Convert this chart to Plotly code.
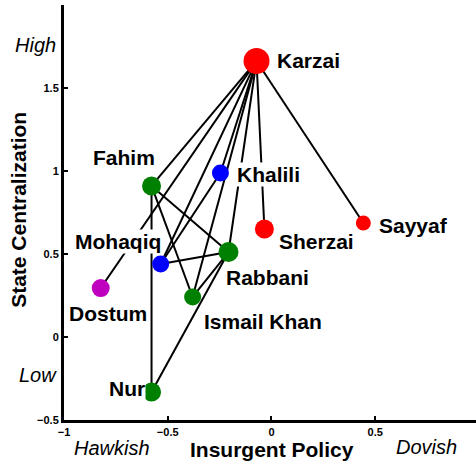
import plotly.graph_objects as go

# ---- data ----
names = ["Karzai", "Khalili", "Sherzai", "Sayyaf", "Fahim", "Mohaqiq",
         "Rabbani", "Ismail Khan", "Dostum", "Nur"]
policy = [-0.072, -0.246, -0.034, 0.443, -0.578, -0.534, -0.207, -0.380, -0.823, -0.578]
central = [1.663, 0.988, 0.651, 0.687, 0.910, 0.440, 0.512, 0.241, 0.295, -0.331]
groups = ["red", "blue", "red", "red", "green", "blue", "green", "green", "magenta", "green"]
weights = [26, 17, 19, 15, 19, 17, 20, 17, 18, 19]
edges = [("Karzai", "Fahim"), ("Karzai", "Dostum"), ("Karzai", "Mohaqiq"),
         ("Karzai", "Khalili"), ("Karzai", "Ismail Khan"), ("Karzai", "Rabbani"),
         ("Karzai", "Sherzai"), ("Karzai", "Sayyaf"),
         ("Fahim", "Nur"), ("Fahim", "Rabbani"), ("Fahim", "Ismail Khan"),
         ("Mohaqiq", "Rabbani"), ("Mohaqiq", "Khalili"),
         ("Rabbani", "Ismail Khan"), ("Rabbani", "Nur")]
x_ticks = [-1, -0.5, 0, 0.5]
y_ticks = [-0.5, 0, 0.5, 1, 1.5]

# ---- styles ----
color_map = {"red": "#FF0000", "blue": "#0000FF", "green": "#008000", "magenta": "#BF00BF"}
# label placement: (xanchor, xshift px, yshift px)
label_pos = {
    "Karzai": ("left", 19, 0),
    "Khalili": ("left", 16, -2),
    "Sherzai": ("left", 14, -13),
    "Sayyaf": ("left", 15, -3),
    "Fahim": ("center", -28, 28),
    "Mohaqiq": ("center", -43, 22),
    "Rabbani": ("left", -4, -25),
    "Ismail Khan": ("left", 10, -25),
    "Dostum": ("center", 7, -25),
    "Nur": ("right", -6, 3),
}
FONT = "Liberation Sans, Arial, sans-serif"

idx = {n: i for i, n in enumerate(names)}
ex, ey = [], []
for a, b in edges:
    ex += [policy[idx[a]], policy[idx[b]], None]
    ey += [central[idx[a]], central[idx[b]], None]

fig = go.Figure()
fig.add_trace(go.Scatter(x=ex, y=ey, mode="lines",
                         line=dict(color="black", width=2), hoverinfo="skip",
                         showlegend=False))
fig.add_trace(go.Scatter(x=policy, y=central, mode="markers",
                         marker=dict(size=weights, color=[color_map[g] for g in groups],
                                     line=dict(width=0), opacity=1),
                         text=names, showlegend=False))

for i, n in enumerate(names):
    xa, xs, ys = label_pos[n]
    fig.add_annotation(x=policy[i], y=central[i], text=n, showarrow=False,
                       xanchor=xa, yanchor="middle", xshift=xs, yshift=ys,
                       bgcolor="white", borderpad=0,
                       font=dict(family=FONT, size=21, color="black", weight="bold"))

def paper_ann(text, x, y, italic=False, bold=False, angle=0):
    fig.add_annotation(xref="paper", yref="paper", x=x, y=y, text=text,
                       showarrow=False, xanchor="center", yanchor="middle",
                       textangle=angle,
                       font=dict(family=FONT, size=20 if not bold else 21, color="black",
                                 style="italic" if italic else "normal",
                                 weight="bold" if bold else "normal"))

paper_ann("High", -0.070, 0.904, italic=True)
paper_ann("Low", -0.063, 0.108, italic=True)
paper_ann("Hawkish", 0.1165, -0.067, italic=True)
paper_ann("Dovish", 0.881, -0.065, italic=True)
paper_ann("Insurgent Policy", 0.505, -0.070, bold=True)
paper_ann("State Centralization", -0.112, 0.506, bold=True, angle=-90)

axis_common = dict(showgrid=False, zeroline=False, showline=True, linecolor="black",
                   linewidth=3, ticks="inside", ticklen=4, tickwidth=2, tickcolor="black",
                   tickfont=dict(family=FONT, size=11, color="black", weight="bold"))
fig.update_xaxes(range=[-1, 0.986], tickvals=x_ticks, mirror=False, **axis_common)
fig.update_yaxes(range=[-0.5, 2.0], tickvals=y_ticks, mirror=False, **axis_common)

fig.update_layout(width=476, height=463, margin=dict(l=64, r=0, t=5, b=43),
                  plot_bgcolor="white", paper_bgcolor="white")

fig.write_html("out.html", config={"displayModeBar": False},
               post_script="document.body.style.margin='0';document.body.style.padding='0';")
